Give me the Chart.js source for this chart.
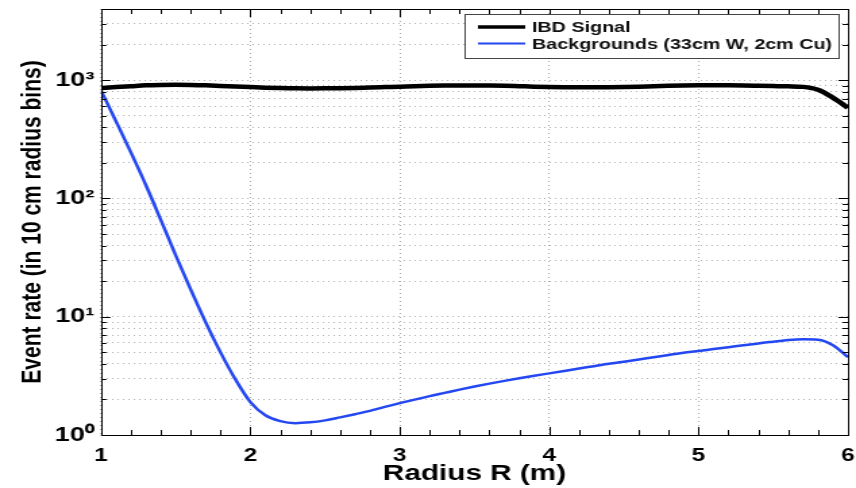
<!DOCTYPE html>
<html>
<head>
<meta charset="utf-8">
<script src="https://cdn.jsdelivr.net/npm/chart.js@4"></script>
<style>
  html, body { margin: 0; padding: 0; background: #fff; overflow: hidden; }
  /* the plot is drawn narrow and widened, so the bold lettering comes out broad */
  #wrap { width: 634px; height: 488px; transform: scaleX(1.3502); transform-origin: 0 0; }
</style>
</head>
<body>
<div id="wrap"><canvas id="myChart" width="634" height="488"></canvas></div>
<script>
// radius bins (m), 10 cm apart
let radius = [1.0, 1.1, 1.2, 1.3, 1.4, 1.5, 1.6, 1.7, 1.8, 1.9,
  2.0, 2.1, 2.2, 2.3, 2.4, 2.5, 2.6, 2.7, 2.8, 2.9,
  3.0, 3.1, 3.2, 3.3, 3.4, 3.5, 3.6, 3.7, 3.8, 3.9,
  4.0, 4.1, 4.2, 4.3, 4.4, 4.5, 4.6, 4.7, 4.8, 4.9,
  5.0, 5.1, 5.2, 5.3, 5.4, 5.5, 5.6, 5.7, 5.8, 5.9, 6.0];

let ibdSignal = [860, 875, 890, 905, 912, 915, 912, 905, 895, 885,
  875, 865, 858, 853, 852, 853, 855, 860, 868, 875,
  882, 890, 896, 900, 903, 904, 902, 898, 890, 882,
  876, 872, 870, 870, 872, 876, 882, 890, 897, 903,
  907, 908, 906, 902, 897, 892, 887, 878, 830, 710, 585];

let backgrounds = [820, 450, 245, 130, 66, 33, 17, 9.0, 5.0, 2.95,
  1.9, 1.47, 1.31, 1.26, 1.28, 1.33, 1.41, 1.50, 1.60, 1.73,
  1.86, 1.99, 2.13, 2.27, 2.42, 2.57, 2.72, 2.87, 3.02, 3.17,
  3.32, 3.48, 3.65, 3.82, 4.0, 4.17, 4.35, 4.55, 4.75, 4.95,
  5.13, 5.33, 5.53, 5.73, 5.95, 6.15, 6.35, 6.45, 6.4, 5.75, 4.55];

let xTickLabels = ['1', '2', '3', '4', '5', '6'];
let yDecades = [1, 10, 100, 1000];
let yDecadeLabels = ['10\u2070', '10\u00b9', '10\u00b2', '10\u00b3'];
let yMantissas = [1, 2, 3, 4, 5, 6, 7, 8, 9];
let yMax = 4000;

const font = '"Liberation Sans", Arial, sans-serif';

function points(ys) {
  return radius.map((r, i) => ({x: r, y: ys[i]}));
}

// box, inward ticks on all four sides
const frameTicks = {
  id: 'frameTicks',
  afterDatasetsDraw(chart) {
    const {ctx, chartArea: a, scales: {x, y}} = chart;
    ctx.save();
    ctx.strokeStyle = '#000';
    ctx.lineWidth = 1;
    ctx.beginPath();
    for (let i = 0; i <= 25; i++) {
      const px = Math.round(x.getPixelForValue(x.min + i * 0.2)) + 0.5;
      const len = i % 5 === 0 ? 8 : 5;
      ctx.moveTo(px, a.bottom); ctx.lineTo(px, a.bottom - len);
      ctx.moveTo(px, a.top); ctx.lineTo(px, a.top + len);
    }
    y.ticks.forEach(t => {
      const py = Math.round(y.getPixelForValue(t.value)) + 0.5;
      const len = yDecades.includes(t.value) ? 7 : 4;
      ctx.moveTo(a.left, py); ctx.lineTo(a.left + len, py);
      ctx.moveTo(a.right, py); ctx.lineTo(a.right - len, py);
    });
    ctx.stroke();
    ctx.strokeRect(Math.round(a.left) + 0.5, Math.round(a.top) + 0.5,
      Math.round(a.right - a.left), Math.round(a.bottom - a.top));
    ctx.restore();
  }
};

// legend in a framed white box, top right of the plot
const boxLegend = {
  id: 'boxLegend',
  afterDraw(chart) {
    const {ctx, chartArea: a} = chart;
    const sets = chart.data.datasets;
    ctx.save();
    ctx.font = 'bold 14.6px ' + font;
    const textW = Math.max(...sets.map(d => ctx.measureText(d.label).width));
    const w = Math.round(10 + 35 + 5 + textW + 5);
    const h = 44;
    const left = Math.round(a.right - 7.5 - w);
    const top = Math.round(a.top + 5);
    ctx.fillStyle = '#fff';
    ctx.fillRect(left, top, w, h);
    ctx.strokeStyle = '#444';
    ctx.lineWidth = 1;
    ctx.strokeRect(left + 0.5, top + 0.5, w, h);
    sets.forEach((d, i) => {
      const yy = top + 13 + i * 16.5;
      ctx.strokeStyle = d.borderColor;
      ctx.lineWidth = i === 0 ? 3.5 : 2;
      ctx.beginPath();
      ctx.moveTo(left + 10, yy); ctx.lineTo(left + 45, yy);
      ctx.stroke();
      ctx.fillStyle = '#111';
      ctx.textBaseline = 'middle';
      ctx.fillText(d.label, left + 50, yy + 1);
    });
    ctx.restore();
  }
};

new Chart('myChart', {
  type: 'line',
  data: {
    datasets: [{
      label: 'IBD Signal',
      data: points(ibdSignal),
      borderColor: '#000',
      borderWidth: 4.5,
      pointRadius: 0,
      cubicInterpolationMode: 'monotone',
      fill: false
    }, {
      label: 'Backgrounds (33cm W, 2cm Cu)',
      data: points(backgrounds),
      borderColor: '#2347f0',
      borderWidth: 2.5,
      pointRadius: 0,
      cubicInterpolationMode: 'monotone',
      fill: false
    }]
  },
  options: {
    responsive: false,
    animation: false,
    devicePixelRatio: 1,
    layout: {padding: {top: 9, right: 6, left: 0, bottom: 0}},
    plugins: {legend: {display: false}, tooltip: {enabled: false}},
    scales: {
      x: {
        type: 'linear',
        min: 1,
        max: 6,
        afterFit(scale) {
          scale.height = 53;
          scale.paddingLeft = 0;
          scale.paddingRight = 0;
        },
        ticks: {
          stepSize: 1,
          padding: 10,
          color: '#000',
          font: {family: font, size: 18, weight: 'bold'},
          callback: (v) => xTickLabels[v - 1]
        },
        grid: {color: 'rgba(0,0,0,0.35)', lineWidth: 1, drawTicks: false},
        border: {display: false, dash: [1, 3]},
        title: {
          display: true,
          text: 'Radius R (m)',
          color: '#000',
          font: {family: font, size: 22, weight: 'bold'},
          padding: {top: 0, bottom: 1}
        }
      },
      y: {
        type: 'logarithmic',
        min: 1,
        max: yMax,
        afterFit(scale) {
          scale.width = 74.8;
          scale.paddingTop = 0;
          scale.paddingBottom = 0;
        },
        afterBuildTicks(scale) {
          const vals = [];
          yDecades.forEach(d => yMantissas.forEach(m => { if (d * m < yMax) vals.push(d * m); }));
          scale.ticks = vals.map(v => ({value: v}));
        },
        ticks: {
          autoSkip: false,
          padding: 5,
          color: '#000',
          font: {family: font, size: 20, weight: 'bold'},
          callback: (v) => {
            const k = yDecades.indexOf(v);
            return k >= 0 ? yDecadeLabels[k] : '';
          }
        },
        grid: {color: 'rgba(0,0,0,0.3)', lineWidth: 1, drawTicks: false},
        border: {display: false, dash: [1, 3]},
        title: {
          display: true,
          text: 'Event rate (in 10 cm radius bins)',
          color: '#000',
          font: {family: font, size: 21, weight: 'bold'},
          padding: {top: 12, bottom: 0}
        }
      }
    }
  },
  plugins: [frameTicks, boxLegend]
});
</script>
</body>
</html>
